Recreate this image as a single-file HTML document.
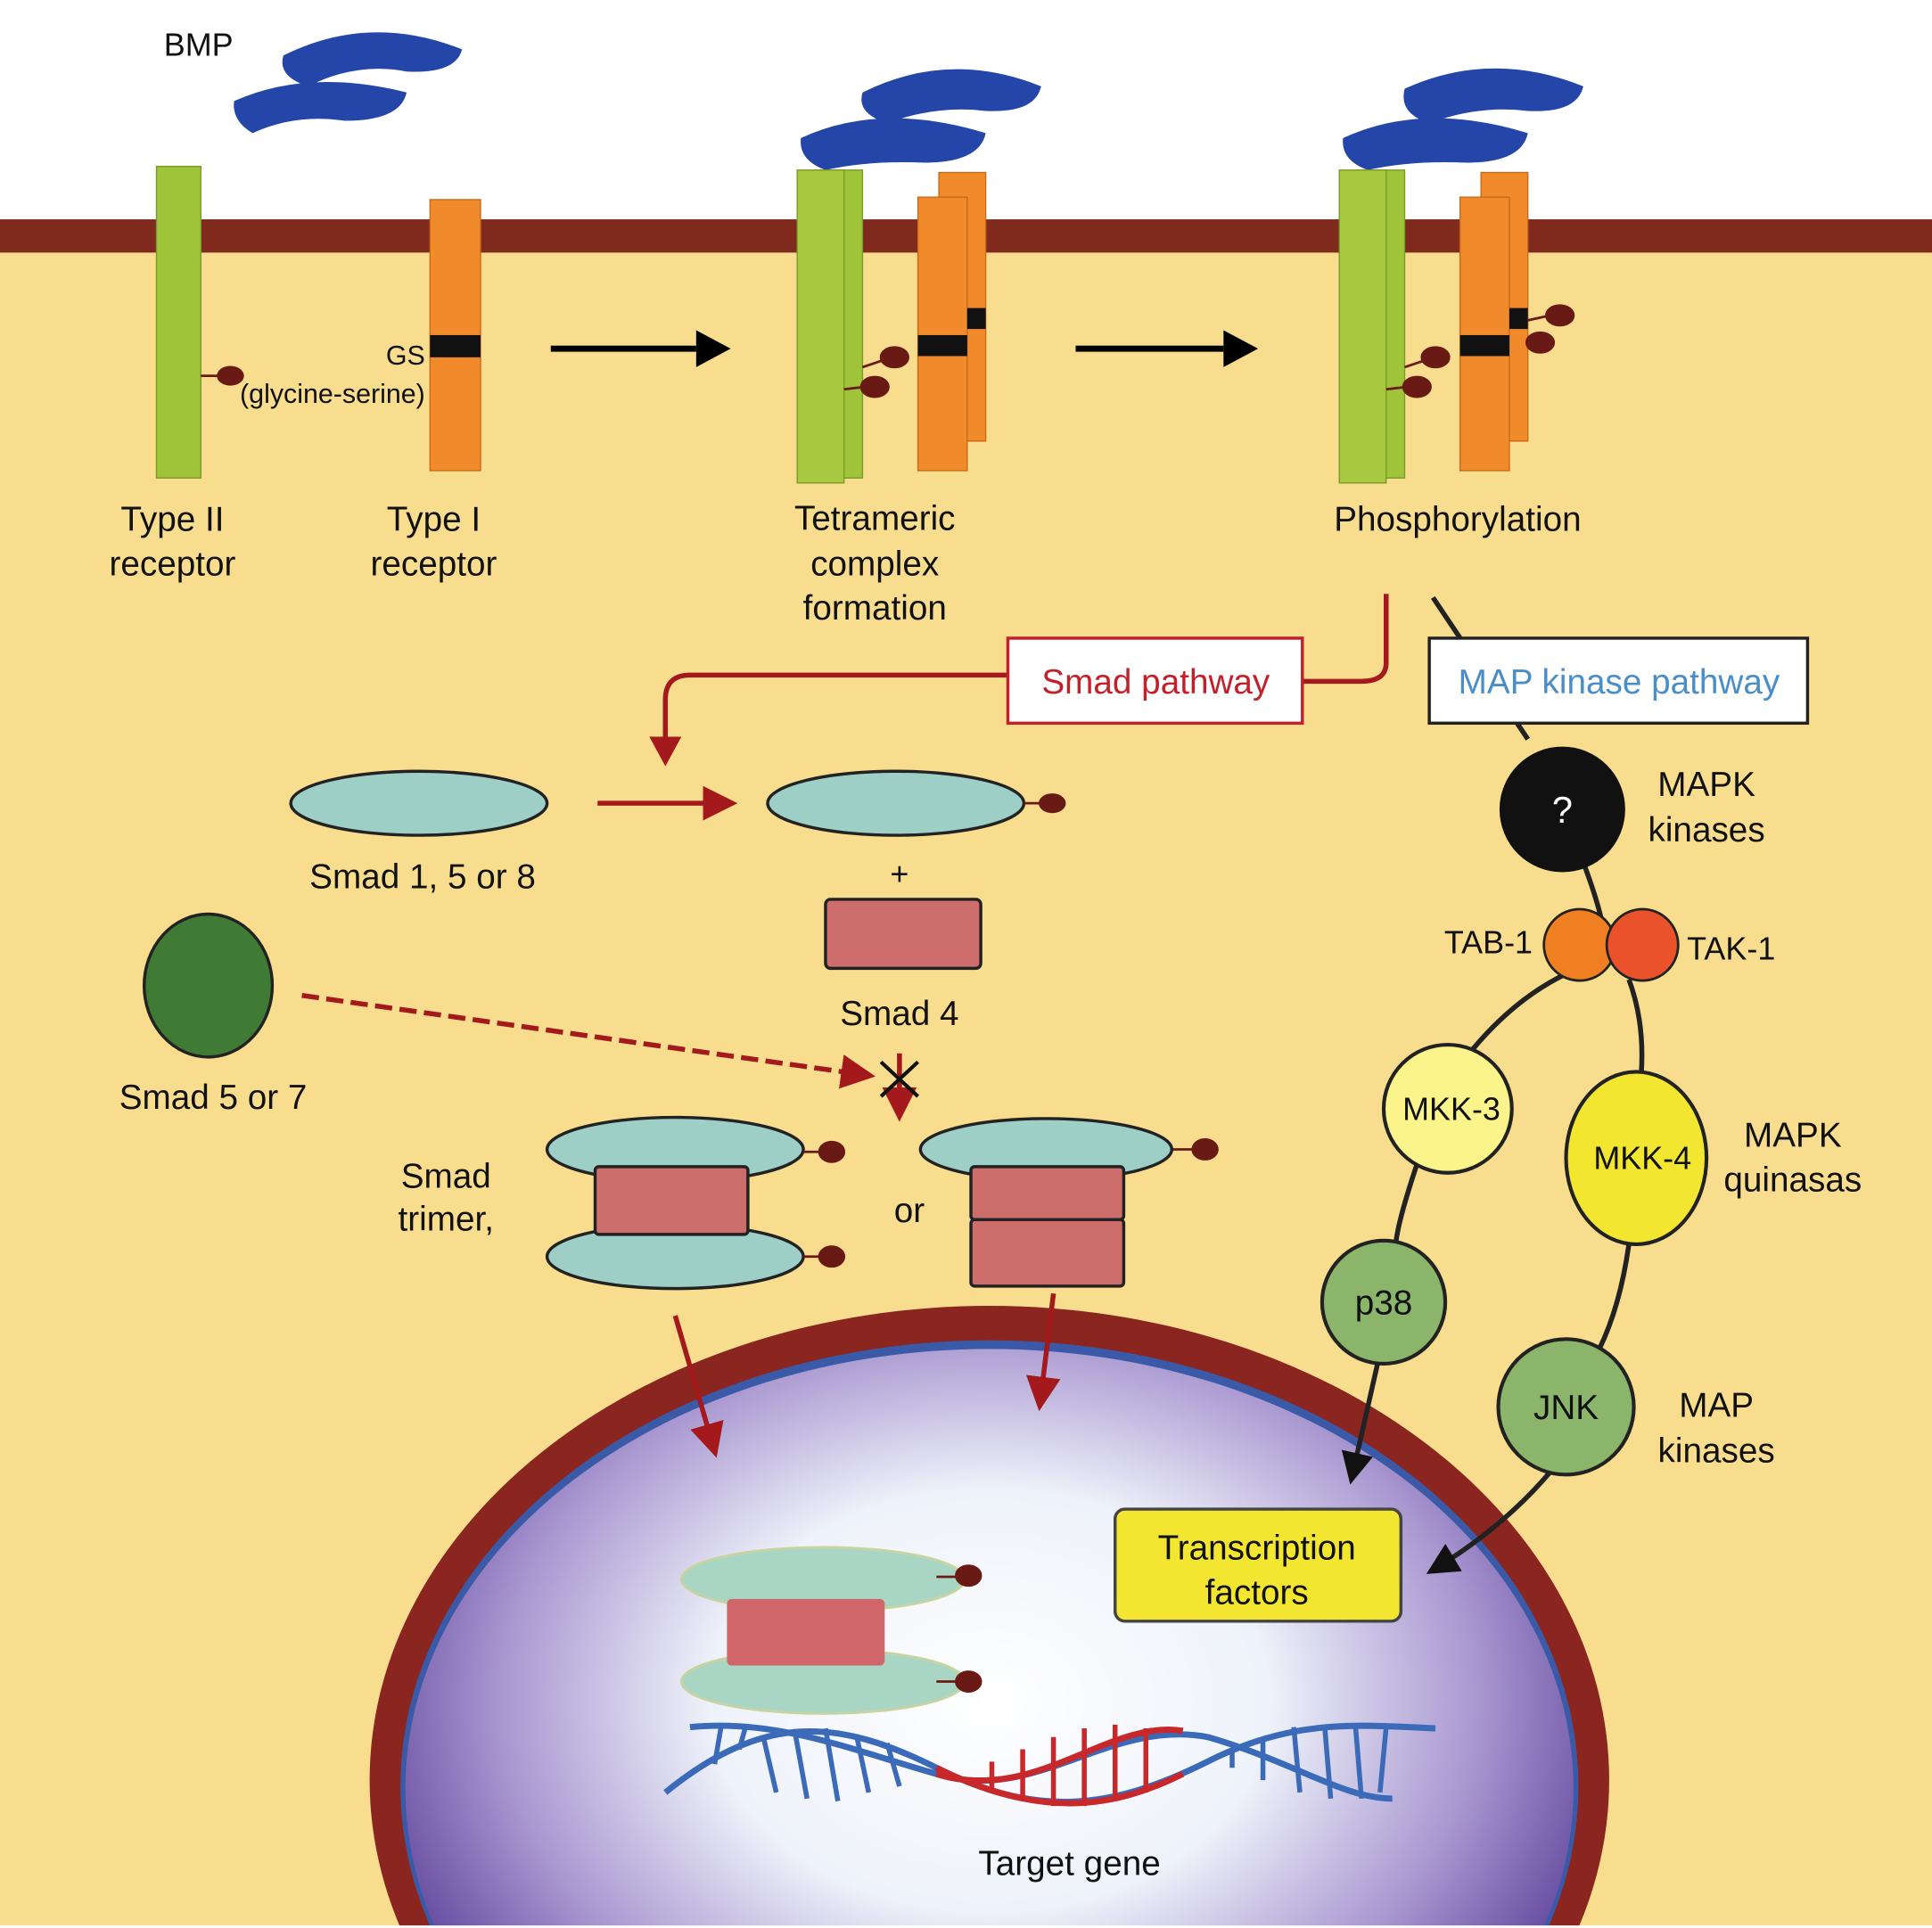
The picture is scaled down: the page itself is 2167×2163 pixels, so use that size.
<!DOCTYPE html>
<html><head><meta charset="utf-8"><style>
html,body{margin:0;padding:0;background:#fff;width:2167px;height:2163px;overflow:hidden}
svg{display:block}
text{font-family:"Liberation Sans",Arial,sans-serif;fill:#111}
</style></head><body>
<svg width="2167" height="2163" viewBox="0 0 1568 1565" xmlns="http://www.w3.org/2000/svg">
<defs>
<radialGradient id="nuc" cx="0.5" cy="0.4" r="0.6">
<stop offset="0" stop-color="#ffffff"/>
<stop offset="0.4" stop-color="#eef2fa"/>
<stop offset="0.7" stop-color="#a896d0"/>
<stop offset="1" stop-color="#4a2c8c"/>
</radialGradient>
<marker id="ar" viewBox="0 0 10 10" refX="8" refY="5" markerWidth="28" markerHeight="28" orient="auto" markerUnits="userSpaceOnUse"><path d="M0,0 L10,5 L0,10z" fill="#a3191c"/></marker>
<marker id="ak" viewBox="0 0 10 10" refX="8" refY="5" markerWidth="26" markerHeight="26" orient="auto" markerUnits="userSpaceOnUse"><path d="M0,0 L10,5 L0,10z" fill="#111"/></marker>
</defs>
<rect x="0" y="0" width="1568" height="1565" fill="#f9dd8f"/>
<rect x="0" y="0" width="1568" height="178" fill="#fff"/>
<rect x="0" y="178" width="1568" height="27" fill="#7f2a1c"/>

<!-- nucleus -->
<ellipse cx="803" cy="1445" rx="503" ry="385" fill="#8a2520"/>
<ellipse cx="803" cy="1450" rx="478" ry="362" fill="#3a5aa8"/>
<ellipse cx="803" cy="1452" rx="474" ry="357" fill="url(#nuc)"/>

<!-- BMP blobs -->
<text x="133" y="45" font-size="26">BMP</text>
<g fill="#2446a8">
<path d="M230,45 Q300,10 375,40 Q370,60 330,58 Q290,50 250,70 Q225,62 230,45z"/>
<path d="M190,82 Q250,55 330,75 Q325,98 280,98 Q240,92 205,108 Q188,98 190,82z"/>
<path d="M700,75 Q770,40 845,70 Q840,92 800,90 Q760,85 720,100 Q695,92 700,75z"/>
<path d="M650,112 Q715,82 800,108 Q795,132 750,132 Q705,130 670,138 Q648,130 650,112z"/>
<path d="M1140,72 Q1210,40 1285,70 Q1280,92 1240,90 Q1200,85 1160,100 Q1135,92 1140,72z"/>
<path d="M1090,112 Q1155,82 1240,108 Q1235,132 1190,132 Q1145,130 1110,138 Q1088,130 1090,112z"/>
</g>

<!-- receptors -->
<rect x="127" y="135" width="36" height="253" fill="#9fc43a" stroke="#7a9a2a"/>
<rect x="349" y="162" width="41" height="220" fill="#f08a2a" stroke="#c86a1a"/>
<rect x="349" y="272" width="41" height="18" fill="#111"/>
<line x1="163" y1="305" x2="180" y2="305" stroke="#6a1a14" stroke-width="2"/>
<ellipse cx="187" cy="305" rx="11" ry="8" fill="#6a1a14"/>
<text x="345" y="296" font-size="22" text-anchor="end">GS</text>
<text x="345" y="327" font-size="22" text-anchor="end">(glycine-serine)</text>

<line x1="447" y1="283" x2="565" y2="283" stroke="#000" stroke-width="5"/>
<path d="M565,268 L593,283 L565,298z" fill="#000"/>
<line x1="873" y1="283" x2="993" y2="283" stroke="#000" stroke-width="5"/>
<path d="M993,268 L1021,283 L993,298z" fill="#000"/>

<!-- tetrameric -->
<rect x="660" y="138" width="40" height="250" fill="#9fc43a" stroke="#7a9a2a"/>
<rect x="647" y="138" width="38" height="254" fill="#a7c83f" stroke="#7a9a2a"/>
<rect x="762" y="140" width="38" height="218" fill="#f08a2a" stroke="#c86a1a"/>
<rect x="745" y="160" width="40" height="222" fill="#f08a2a" stroke="#c86a1a"/>
<rect x="745" y="272" width="40" height="17" fill="#111"/>
<rect x="785" y="250" width="15" height="17" fill="#111"/>
<g fill="#6a1a14" stroke="#6a1a14" stroke-width="2">
<line x1="700" y1="298" x2="718" y2="292"/><ellipse cx="726" cy="290" rx="11" ry="8"/>
<line x1="685" y1="316" x2="702" y2="314"/><ellipse cx="710" cy="314" rx="11" ry="8"/>
</g>
<!-- phosphorylation -->
<rect x="1100" y="138" width="40" height="250" fill="#9fc43a" stroke="#7a9a2a"/>
<rect x="1087" y="138" width="38" height="254" fill="#a7c83f" stroke="#7a9a2a"/>
<rect x="1202" y="140" width="38" height="218" fill="#f08a2a" stroke="#c86a1a"/>
<rect x="1185" y="160" width="40" height="222" fill="#f08a2a" stroke="#c86a1a"/>
<rect x="1185" y="272" width="40" height="17" fill="#111"/>
<rect x="1225" y="250" width="15" height="17" fill="#111"/>
<g fill="#6a1a14" stroke="#6a1a14" stroke-width="2">
<line x1="1140" y1="298" x2="1158" y2="292"/><ellipse cx="1165" cy="290" rx="11" ry="8"/>
<line x1="1125" y1="316" x2="1142" y2="314"/><ellipse cx="1150" cy="314" rx="11" ry="8"/>
<line x1="1240" y1="260" x2="1258" y2="256"/><ellipse cx="1266" cy="256" rx="11" ry="8"/>
<ellipse cx="1250" cy="278" rx="11" ry="8"/>
</g>

<g font-size="28" text-anchor="middle">
<text x="140" y="431">Type II</text><text x="140" y="467">receptor</text>
<text x="352" y="431">Type I</text><text x="352" y="467">receptor</text>
<text x="710" y="430">Tetrameric</text><text x="710" y="467">complex</text><text x="710" y="503">formation</text>
<text x="1183" y="431">Phosphorylation</text>
</g>

<!-- Smad pathway -->
<path d="M1125,482 L1125,538 Q1125,553 1105,553 L1058,553" fill="none" stroke="#a3191c" stroke-width="4"/>
<path d="M818,548 L560,548 Q540,548 540,568 L540,600" fill="none" stroke="#a3191c" stroke-width="4"/>
<path d="M527,598 L540,622 L553,598z" fill="#a3191c"/>
<rect x="818" y="518" width="239" height="69" fill="#fff" stroke="#c3202a" stroke-width="2.5"/>
<text x="938" y="563" font-size="28" text-anchor="middle" style="fill:#c3202a">Smad pathway</text>

<!-- MAPK pathway -->
<path d="M1163,485 Q1200,540 1240,600" fill="none" stroke="#222" stroke-width="4"/>
<path d="M1285,700 Q1300,740 1302,760" fill="none" stroke="#222" stroke-width="4"/>
<rect x="1160" y="518" width="307" height="69" fill="#fff" stroke="#222" stroke-width="2.5"/>
<text x="1314" y="563" font-size="28" text-anchor="middle" style="fill:#4a8ec8">MAP kinase pathway</text>
<circle cx="1268" cy="657" r="51" fill="#111"/>
<text x="1268" y="668" font-size="30" text-anchor="middle" style="fill:#fff">?</text>
<text x="1385" y="646" font-size="28" text-anchor="middle">MAPK</text>
<text x="1385" y="683" font-size="28" text-anchor="middle">kinases</text>

<g fill="none" stroke="#222" stroke-width="4">
<path d="M1272,790 Q1230,810 1195,852"/>
<path d="M1322,795 Q1335,830 1332,872"/>
<path d="M1150,945 Q1135,990 1133,1008"/>
<path d="M1322,1010 Q1315,1060 1298,1095"/>
</g>
<line x1="1118" y1="1107" x2="1097" y2="1200" stroke="#222" stroke-width="4" marker-end="url(#ak)"/>
<path d="M1258,1195 Q1220,1240 1162,1275" fill="none" stroke="#222" stroke-width="4" marker-end="url(#ak)"/>

<circle cx="1282" cy="767" r="29" fill="#f07f22" stroke="#222" stroke-width="2"/>
<circle cx="1333" cy="767" r="29" fill="#e9522a" stroke="#222" stroke-width="2"/>
<text x="1208" y="774" font-size="26" text-anchor="middle">TAB-1</text>
<text x="1405" y="779" font-size="26" text-anchor="middle">TAK-1</text>

<circle cx="1175" cy="900" r="52" fill="#fbf48a" stroke="#222" stroke-width="3"/>
<text x="1178" y="909" font-size="26" text-anchor="middle">MKK-3</text>
<ellipse cx="1328" cy="940" rx="57" ry="70" fill="#f2e630" stroke="#222" stroke-width="3"/>
<text x="1333" y="949" font-size="26" text-anchor="middle">MKK-4</text>
<text x="1455" y="931" font-size="28" text-anchor="middle">MAPK</text>
<text x="1455" y="967" font-size="28" text-anchor="middle">quinasas</text>

<circle cx="1123" cy="1057" r="50" fill="#8ab56a" stroke="#222" stroke-width="3"/>
<text x="1123" y="1067" font-size="28" text-anchor="middle">p38</text>
<circle cx="1271" cy="1142" r="55" fill="#8ab56a" stroke="#222" stroke-width="3"/>
<text x="1271" y="1152" font-size="28" text-anchor="middle">JNK</text>
<text x="1393" y="1150" font-size="28" text-anchor="middle">MAP</text>
<text x="1393" y="1187" font-size="28" text-anchor="middle">kinases</text>

<!-- smads -->
<ellipse cx="340" cy="652" rx="104" ry="26" fill="#9ecfc6" stroke="#222" stroke-width="2.5"/>
<text x="343" y="721" font-size="28" text-anchor="middle">Smad 1, 5 or 8</text>
<line x1="485" y1="652" x2="593" y2="652" stroke="#a3191c" stroke-width="4" marker-end="url(#ar)"/>
<ellipse cx="727" cy="652" rx="104" ry="26" fill="#9ecfc6" stroke="#222" stroke-width="2.5"/>
<line x1="831" y1="652" x2="846" y2="652" stroke="#6a1a14" stroke-width="2"/>
<ellipse cx="854" cy="652" rx="11" ry="8" fill="#6a1a14"/>
<text x="730" y="718" font-size="26" text-anchor="middle">+</text>
<rect x="670" y="730" width="126" height="56" rx="4" fill="#cd6e6c" stroke="#222" stroke-width="2.5"/>
<text x="730" y="832" font-size="28" text-anchor="middle">Smad 4</text>

<ellipse cx="169" cy="800" rx="52" ry="58" fill="#3f7b34" stroke="#222" stroke-width="2.5"/>
<text x="173" y="900" font-size="28" text-anchor="middle">Smad 5 or 7</text>
<line x1="245" y1="808" x2="705" y2="873" stroke="#a3191c" stroke-width="4" stroke-dasharray="14,6" marker-end="url(#ar)"/>
<line x1="730" y1="855" x2="730" y2="905" stroke="#a3191c" stroke-width="4" marker-end="url(#ar)"/>
<path d="M715,862 L745,890 M745,862 L715,890" stroke="#111" stroke-width="3"/>

<!-- trimer -->
<text x="362" y="964" font-size="28" text-anchor="middle">Smad</text>
<text x="362" y="999" font-size="28" text-anchor="middle">trimer,</text>
<ellipse cx="548" cy="933" rx="104" ry="26" fill="#9ecfc6" stroke="#222" stroke-width="2.5"/>
<ellipse cx="548" cy="1020" rx="104" ry="26" fill="#9ecfc6" stroke="#222" stroke-width="2.5"/>
<rect x="483" y="947" width="124" height="55" rx="3" fill="#cd6e6c" stroke="#222" stroke-width="2.5"/>
<g fill="#6a1a14" stroke="#6a1a14" stroke-width="2">
<line x1="652" y1="935" x2="668" y2="935"/><ellipse cx="675" cy="935" rx="10" ry="8"/>
<line x1="652" y1="1020" x2="668" y2="1020"/><ellipse cx="675" cy="1020" rx="10" ry="8"/>
<line x1="951" y1="933" x2="970" y2="933"/><ellipse cx="978" cy="933" rx="10" ry="8"/>
</g>
<text x="738" y="992" font-size="28" text-anchor="middle">or</text>
<ellipse cx="849" cy="933" rx="102" ry="25" fill="#9ecfc6" stroke="#222" stroke-width="2.5"/>
<rect x="788" y="947" width="124" height="43" rx="3" fill="#cd6e6c" stroke="#222" stroke-width="2.5"/>
<rect x="788" y="990" width="124" height="54" rx="3" fill="#cd6e6c" stroke="#222" stroke-width="2.5"/>

<line x1="548" y1="1068" x2="580" y2="1178" stroke="#a3191c" stroke-width="4" marker-end="url(#ar)"/>
<line x1="855" y1="1050" x2="844" y2="1140" stroke="#a3191c" stroke-width="4" marker-end="url(#ar)"/>

<!-- transcription factors -->
<rect x="905" y="1225" width="232" height="91" rx="8" fill="#f2e630" stroke="#444" stroke-width="2.5"/>
<text x="1020" y="1266" font-size="28" text-anchor="middle">Transcription</text>
<text x="1020" y="1302" font-size="28" text-anchor="middle">factors</text>

<!-- nuclear smad complex -->
<ellipse cx="668" cy="1282" rx="115" ry="26" fill="#a9d6c4" stroke="#c8d4a0" stroke-width="2"/>
<ellipse cx="668" cy="1365" rx="115" ry="26" fill="#a9d6c4" stroke="#c8d4a0" stroke-width="2"/>
<rect x="590" y="1298" width="128" height="54" rx="4" fill="#d0666a"/>
<g fill="#6a1a14" stroke="#6a1a14" stroke-width="2">
<line x1="760" y1="1280" x2="778" y2="1280"/><ellipse cx="786" cy="1279" rx="10" ry="8"/>
<line x1="760" y1="1365" x2="778" y2="1365"/><ellipse cx="786" cy="1365" rx="10" ry="8"/>
</g>

<!-- DNA -->
<g fill="none" stroke-width="5">
<path d="M540,1455 C620,1390 680,1395 760,1435 C840,1475 900,1470 980,1430 C1050,1395 1100,1400 1165,1403" stroke="#3a6ab8"/>
<path d="M560,1402 C630,1395 690,1420 760,1440 C840,1465 900,1395 980,1410 C1050,1430 1090,1460 1130,1460" stroke="#3a6ab8"/>
<path d="M760,1435 C840,1475 900,1470 960,1440" stroke="#c8282a"/>
<path d="M760,1440 C840,1465 900,1395 960,1405" stroke="#c8282a"/>
</g>
<g stroke-width="4">
<g stroke="#3a6ab8">
<line x1="580" y1="1432" x2="585" y2="1403"/><line x1="600" y1="1420" x2="605" y2="1402"/>
<line x1="620" y1="1412" x2="630" y2="1455"/><line x1="645" y1="1405" x2="655" y2="1460"/>
<line x1="670" y1="1403" x2="680" y2="1462"/><line x1="695" y1="1408" x2="705" y2="1455"/>
<line x1="720" y1="1415" x2="730" y2="1450"/>
<line x1="1000" y1="1420" x2="1000" y2="1435"/><line x1="1025" y1="1410" x2="1025" y2="1445"/>
<line x1="1050" y1="1402" x2="1055" y2="1455"/><line x1="1075" y1="1400" x2="1080" y2="1460"/>
<line x1="1100" y1="1400" x2="1105" y2="1460"/><line x1="1125" y1="1402" x2="1120" y2="1455"/>
</g>
<g stroke="#c8282a">
<line x1="805" y1="1455" x2="805" y2="1430"/>
<line x1="830" y1="1462" x2="830" y2="1420"/><line x1="855" y1="1466" x2="855" y2="1410"/>
<line x1="880" y1="1466" x2="880" y2="1403"/><line x1="905" y1="1462" x2="905" y2="1400"/>
<line x1="930" y1="1455" x2="930" y2="1403"/>
</g>
</g>
<text x="868" y="1522" font-size="28" text-anchor="middle">Target gene</text>
<rect x="0" y="1563" width="1568" height="2" fill="#fff"/>
</svg>
</body></html>
